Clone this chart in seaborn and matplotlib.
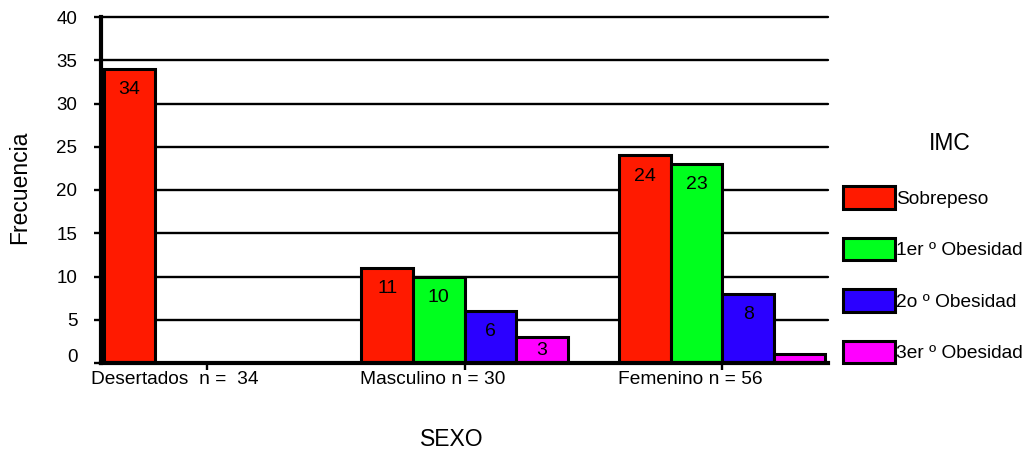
import matplotlib
matplotlib.use("Agg")
import matplotlib.pyplot as plt
import matplotlib.transforms as mtransforms
import pandas as pd
import seaborn as sns

# Categories and counts per BMI class
sexo = ["Desertados  n =  34", "Masculino n = 30", "Femenino n = 56"]
imc = ["Sobrepeso", "1er º Obesidad", "2o º Obesidad", "3er º Obesidad"]
sobrepeso = [34, 11, 24]
obesidad_1 = [0, 10, 23]
obesidad_2 = [0, 6, 8]
obesidad_3 = [0, 3, 1]
colores = ["#FF1A00", "#00FF1E", "#2B00FF", "#FF00FF"]
y_ticks = [0, 5, 10, 15, 20, 25, 30, 35, 40]

series = [sobrepeso, obesidad_1, obesidad_2, obesidad_3]
df = pd.DataFrame(
    [(s, c, v) for c, vals in zip(imc, series) for s, v in zip(sexo, vals)],
    columns=["SEXO", "IMC", "Frecuencia"],
)

sns.set_style("white")
plt.rcParams["font.family"] = ["Liberation Sans", "DejaVu Sans"]
plt.rcParams["text.color"] = "black"
plt.rcParams["axes.labelcolor"] = "black"

fig = plt.figure(figsize=(10.26, 4.51), dpi=100)
ax = fig.add_axes([101 / 1026, 1 - 363 / 451, 727 / 1026, 346 / 451])

sns.barplot(
    data=df, x="SEXO", y="Frecuencia", hue="IMC",
    order=sexo, hue_order=imc, palette=colores,
    width=0.8, edgecolor="black", linewidth=2.2,
    saturation=1, ax=ax, legend=True,
)

# Value labels inside the top of each bar (short bars get a smaller inset)
label_pad = [-21, -21, -21, -16]
for cont, vals, pad in zip(ax.containers, series, label_pad):
    ax.bar_label(cont, labels=[str(v) if v >= 3 else "" for v in vals],
                 padding=pad, fontsize=14, color="black")

ax.set_xlim(-0.41, 2.41)
ax.set_ylim(0, 40)
ax.set_yticks(y_ticks)
ax.set_yticklabels([str(t) for t in y_ticks])

# Horizontal grid and axes
ax.set_axisbelow(True)
ax.yaxis.grid(True, color="black", linewidth=1.7)
for gl in ax.get_ygridlines():
    gl.set_clip_on(False)
for side in ["top", "right"]:
    ax.spines[side].set_visible(False)
for side in ["left", "bottom"]:
    ax.spines[side].set_color("black")
    ax.spines[side].set_linewidth(3.0)

ax.tick_params(axis="y", which="major", left=True, length=5, width=1.7,
               color="black", pad=12, labelsize=13.5, labelcolor="black")
ax.tick_params(axis="x", which="major", bottom=True, length=5, width=1.7,
               color="black", pad=1, labelsize=13.8, labelcolor="black")

# Shift category labels slightly left of their ticks
shift = mtransforms.ScaledTranslation(-32 / 100, 0, fig.dpi_scale_trans)
for lab in ax.get_xticklabels():
    lab.set_transform(lab.get_transform() + shift)
# Lift the zero label above the baseline
zero_shift = mtransforms.ScaledTranslation(0, 8 / 100, fig.dpi_scale_trans)
ylabs = ax.get_yticklabels()
ylabs[0].set_transform(ylabs[0].get_transform() + zero_shift)

ax.set_ylabel("Frecuencia", fontsize=16.5, color="black")
ax.yaxis.set_label_coords(-0.096, 0.509)
ax.set_xlabel("SEXO", fontsize=16.5, color="black")
ax.xaxis.set_label_coords(0.482, -0.188)

# Legend on the right, with its title set apart
handles, labels = ax.get_legend_handles_labels()
ax.get_legend().remove()
leg = fig.legend(
    handles, labels, loc="upper left",
    bbox_to_anchor=(843 / 1026, 1 - 186 / 451),
    frameon=False, fontsize=13.8, borderpad=0, borderaxespad=0,
    handlelength=2.7, handleheight=1.45, handletextpad=0.06,
    labelspacing=1.5,
)
for t in leg.get_texts():
    t.set_color("black")
fig.text(950 / 1026, 1 - 143 / 451, "IMC", fontsize=16.5,
         ha="center", va="center", color="black")

fig.savefig("out.png", dpi=100)
